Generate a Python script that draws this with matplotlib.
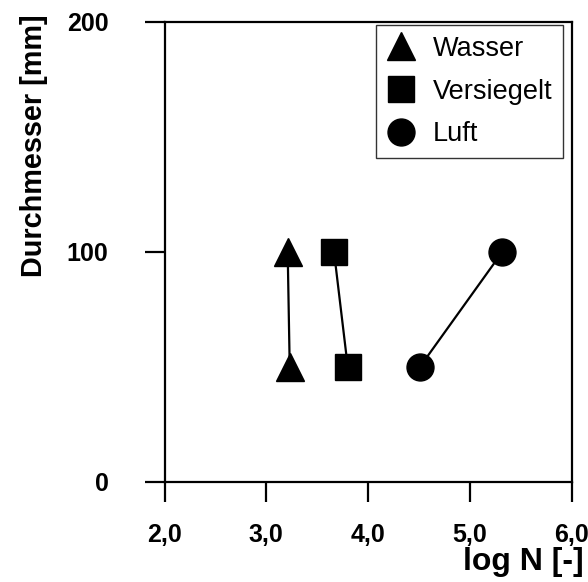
import matplotlib
matplotlib.use("Agg")
import matplotlib.pyplot as plt
from matplotlib.lines import Line2D
from matplotlib.ticker import FuncFormatter

plt.rcParams['font.family'] = ['Liberation Sans', 'DejaVu Sans']

# Data (diameter in mm vs log N)
diameters = [100, 50]
wasser_logN = [3.21, 3.23]
versiegelt_logN = [3.665, 3.80]
luft_logN = [5.32, 4.51]
labels = ["Wasser", "Versiegelt", "Luft"]
xticks = [2.0, 3.0, 4.0, 5.0, 6.0]
yticks = [0, 100, 200]

fig = plt.figure(figsize=(5.88, 5.82), dpi=100)
ax = fig.add_axes([164.5/588, 1-481.7/582, (571.7-164.5)/588, (481.7-21.7)/582])

lw = 1.6
ax.plot(wasser_logN, diameters, color='black', lw=lw, marker='^', ms=20, zorder=3)
ax.plot(versiegelt_logN, diameters, color='black', lw=lw, marker='s', ms=19.4, zorder=3)
ax.plot(luft_logN, diameters, color='black', lw=lw, marker='o', ms=19.4, zorder=3)

ax.set_xlim(2.0, 6.0)
ax.set_ylim(0, 200)
ax.set_xticks(xticks)
ax.set_yticks(yticks)
ax.xaxis.set_major_formatter(FuncFormatter(lambda v, p: f"{v:.1f}".replace('.', ',')))
ax.yaxis.set_major_formatter(FuncFormatter(lambda v, p: f"{int(v)}"))

for s in ax.spines.values():
    s.set_linewidth(1.6)
ax.tick_params(axis='both', direction='out', length=14.4, width=1.6)
ax.tick_params(axis='x', pad=15, labelsize=18)
ax.tick_params(axis='y', pad=26, labelsize=18)
for t in ax.get_xticklabels() + ax.get_yticklabels():
    t.set_fontweight('bold')

ax.set_xlabel("log N [-]", fontsize=23, fontweight='bold', loc='right')
ax.xaxis.set_label_coords((584-164.5)/407.2, (481.7-547)/460)
ax.set_ylabel("Durchmesser [mm]", fontsize=20.8, fontweight='bold', loc='top')
ax.yaxis.set_label_coords((48-164.5)/407.2, (481.7-14)/460)

handles = [
    Line2D([], [], color='black', marker='^', ls='none', ms=20),
    Line2D([], [], color='black', marker='s', ls='none', ms=19.4),
    Line2D([], [], color='black', marker='o', ls='none', ms=19.4),
]
leg = ax.legend(handles, labels, loc='upper right',
                bbox_to_anchor=((563-164.5)/407.2, (481.7-25)/460),
                borderaxespad=0, fontsize=19.5, frameon=True, fancybox=False,
                handlelength=1.0, handletextpad=0.68, borderpad=0.4,
                labelspacing=0.62)
leg.get_frame().set_edgecolor('black')
leg.get_frame().set_linewidth(1.0)

fig.savefig("out.png", dpi=100)
